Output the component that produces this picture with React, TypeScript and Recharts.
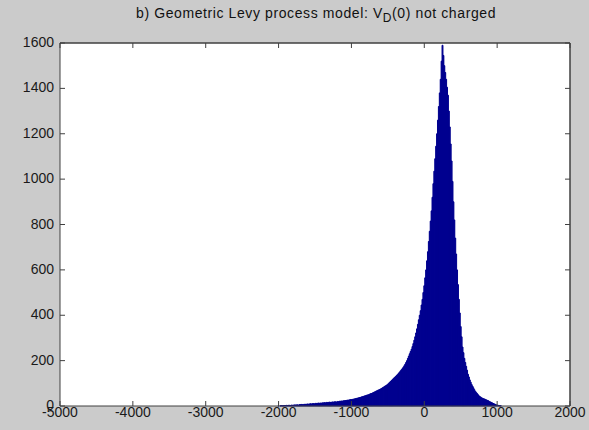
import React from "react";
import { BarChart, Bar, Line, XAxis, YAxis, CartesianGrid, ReferenceLine } from "recharts";

const binStart = -2000;
const binWidth = 12.5;
const counts = [
  1, 0, 1, 2, 1, 1, 2, 2,
  2, 3, 2, 3, 3, 2, 4, 3,
  4, 4, 5, 4, 5, 5, 4, 6,
  6, 7, 6, 7, 6, 8, 7, 8,
  9, 8, 9, 10, 9, 10, 11, 10,
  10, 12, 11, 12, 13, 12, 13, 12,
  14, 13, 15, 14, 14, 16, 15, 16,
  17, 16, 16, 18, 17, 18, 19, 18,
  18, 20, 19, 21, 21, 22, 21, 23,
  23, 24, 24, 25, 26, 26, 27, 28,
  28, 29, 30, 31, 32, 33, 34, 35,
  36, 37, 38, 40, 41, 42, 44, 45,
  46, 48, 49, 50, 52, 54, 55, 57,
  59, 61, 63, 65, 67, 69, 71, 73,
  75, 77, 80, 82, 85, 88, 90, 93,
  96, 100, 104, 108, 112, 116, 120, 124,
  128, 132, 136, 140, 145, 150, 155, 160,
  165, 171, 177, 184, 192, 200, 210, 220,
  230, 240, 250, 262, 275, 290, 305, 322,
  340, 360, 380, 400, 420, 445, 470, 500,
  530, 565, 600, 640, 680, 725, 770, 815,
  860, 920, 980, 1035, 1090, 1145, 1200, 1260,
  1320, 1380, 1440, 1520, 1590, 1545, 1500, 1470,
  1440, 1405, 1370, 1300, 1230, 1155, 1080, 990,
  900, 820, 740, 670, 600, 535, 470, 410,
  350, 305, 260, 235, 210, 192, 175, 158,
  140, 128, 115, 105, 95, 88, 80, 72,
  65, 60, 55, 50, 45, 42, 39, 36,
  34, 32, 31, 29, 27, 25, 24, 21,
  19, 17, 15, 13, 11, 9, 7, 5,
  4, 3, 2, 1, 1,
];
const xTicks = [-5000, -4000, -3000, -2000, -1000, 0, 1000, 2000];
const yTicks = [0, 200, 400, 600, 800, 1000, 1200, 1400, 1600];

const data = counts.map((c, i) => ({ x: binStart + i * binWidth, count: c }));

const W = 589;
const H = 430;
const M = { top: 23, right: 0, left: 0, bottom: 0 };
const TICK = 5;
const FONT = "'Liberation Sans', Arial, sans-serif";
const LABEL = "#1a1a1a";
const AXIS = "#404040";
const BAR = "#00008f";

const BottomTick = (p: any) => (
  <g>
    <line x1={p.x} x2={p.x} y1={p.y} y2={p.y - TICK} stroke={AXIS} />
    <text x={p.x} y={p.y + 11} textAnchor="middle" fontSize={14} fill={LABEL} fontFamily={FONT}>
      {p.payload.value}
    </text>
  </g>
);
const TopTick = (p: any) => (
  <line x1={p.x} x2={p.x} y1={p.y} y2={p.y + TICK} stroke={AXIS} />
);
const LeftTick = (p: any) => (
  <g>
    <line x1={p.x} x2={p.x + TICK} y1={p.y} y2={p.y} stroke={AXIS} />
    <text x={p.x - 6} y={p.y + 4} textAnchor="end" fontSize={14} fill={LABEL} fontFamily={FONT}>
      {p.payload.value}
    </text>
  </g>
);
const RightTick = (p: any) => (
  <line x1={p.x} x2={p.x - TICK} y1={p.y} y2={p.y} stroke={AXIS} />
);

export default function App() {
  return (
    <div
      style={{
        position: "absolute",
        left: 0,
        top: 0,
        width: W,
        height: H,
        background: "#cbcbcb",
        fontFamily: FONT,
      }}
    >
      <BarChart
        width={W}
        height={H}
        data={data}
        margin={M}
        barCategoryGap={0}
        barGap={0}
        style={{ position: "absolute", left: 0, top: 0 }}
      >
        <CartesianGrid fill="#ffffff" horizontal={false} vertical={false} />
        <XAxis
          dataKey="x"
          type="number"
          domain={[-5000, 2000]}
          ticks={xTicks}
          interval={0}
          height={24}
          tickSize={0}
          tickMargin={0}
          tickLine={false}
          axisLine={{ stroke: AXIS }}
          tick={<BottomTick />}
        />
        <XAxis
          xAxisId="top"
          orientation="top"
          dataKey="x"
          type="number"
          domain={[-5000, 2000]}
          ticks={xTicks}
          interval={0}
          height={20}
          tickSize={0}
          tickMargin={0}
          tickLine={false}
          axisLine={{ stroke: AXIS }}
          tick={<TopTick />}
        />
        <YAxis
          type="number"
          domain={[0, 1600]}
          ticks={yTicks}
          interval={0}
          width={60}
          tickSize={0}
          tickMargin={0}
          tickLine={false}
          axisLine={{ stroke: AXIS }}
          tick={<LeftTick />}
        />
        <YAxis
          yAxisId="right"
          orientation="right"
          type="number"
          domain={[0, 1600]}
          ticks={yTicks}
          interval={0}
          width={19}
          tickSize={0}
          tickMargin={0}
          tickLine={false}
          axisLine={{ stroke: AXIS }}
          tick={<RightTick />}
        />
        <Bar
          dataKey="count"
          fill={BAR}
          stroke={BAR}
          strokeWidth={1}
          isAnimationActive={false}
        />
        <Line
          xAxisId="top"
          yAxisId="right"
          dataKey="count"
          stroke="none"
          dot={false}
          activeDot={false}
          legendType="none"
          isAnimationActive={false}
        />
        <ReferenceLine y={1600} stroke={AXIS} ifOverflow="visible" />
        <ReferenceLine x={2000} stroke={AXIS} ifOverflow="visible" />
      </BarChart>
      <div
        style={{
          position: "absolute",
          top: 5,
          left: 136,
          whiteSpace: "nowrap",
          fontSize: 14,
          letterSpacing: 0.6,
          color: "#111",
          lineHeight: "16px",
        }}
      >
        b) Geometric Levy process model: V<sub style={{ fontSize: 12 }}>D</sub>(0) not charged
      </div>
    </div>
  );
}
